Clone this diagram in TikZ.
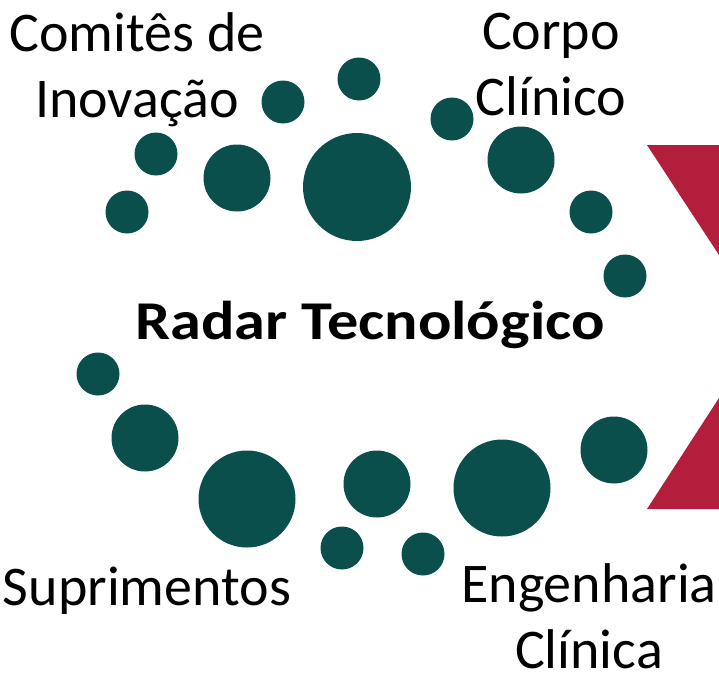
\documentclass[tikz,border=0pt]{standalone}
\usepackage{fontspec}
\setmainfont{Carlito}
\definecolor{radarteal}{HTML}{0A4F4C}
\definecolor{radarred}{HTML}{B31E3D}

\begin{document}
\begin{tikzpicture}[x=0.75pt,y=-0.75pt,
	bubble/.style={circle,fill=radarteal,inner sep=0pt,minimum size=0.75pt*#1},
	area/.style={font=\fontsize{42}{49.5}\selectfont,align=center,inner sep=0pt,anchor=base}]
	\useasboundingbox (0,0) rectangle (719,675);

	% Red wedges on the right
	\fill[radarred] (647,145) -- (719,145) -- (719,255) -- cycle;
	\fill[radarred] (719,398) -- (719,509) -- (647,509) -- cycle;

	% Bubbles: name/x/y/diameter
	\foreach \n/\x/\y/\d in {t1/359/79/43, t2/283/102/43, t3/452/119/43,
		t4/156/154/43, t5/237/178/67, t6/357/187/108, t7/521/160/67,
		t8/127/212/43, t9/591/212/43, t10/625/276/43,
		b1/98/374/43, b2/145/438/67, b3/247/499/97, b4/377/484/67,
		b5/502/488/97, b6/614/450/67, b7/342/548/43, b8/423/554/43}
		\node[bubble=\d] (\n) at (\x,\y) {};

	% Labels (base = last line)
	\node[area] (comites) at (137,117) {Comitês de\\Inovação};
	\node[area] (corpo) at (551,115) {Corpo\\Clínico};
	\node[area,font=\fontsize{41}{49.5}\selectfont\bfseries,xscale=1.14] (radar) at (370,339) {Radar Tecnológico};
	\node[area] (suprimentos) at (147,605) {Suprimentos};
	\node[area] (engenharia) at (589,668) {Engenharia\\Clínica};

\end{tikzpicture}
\end{document}
